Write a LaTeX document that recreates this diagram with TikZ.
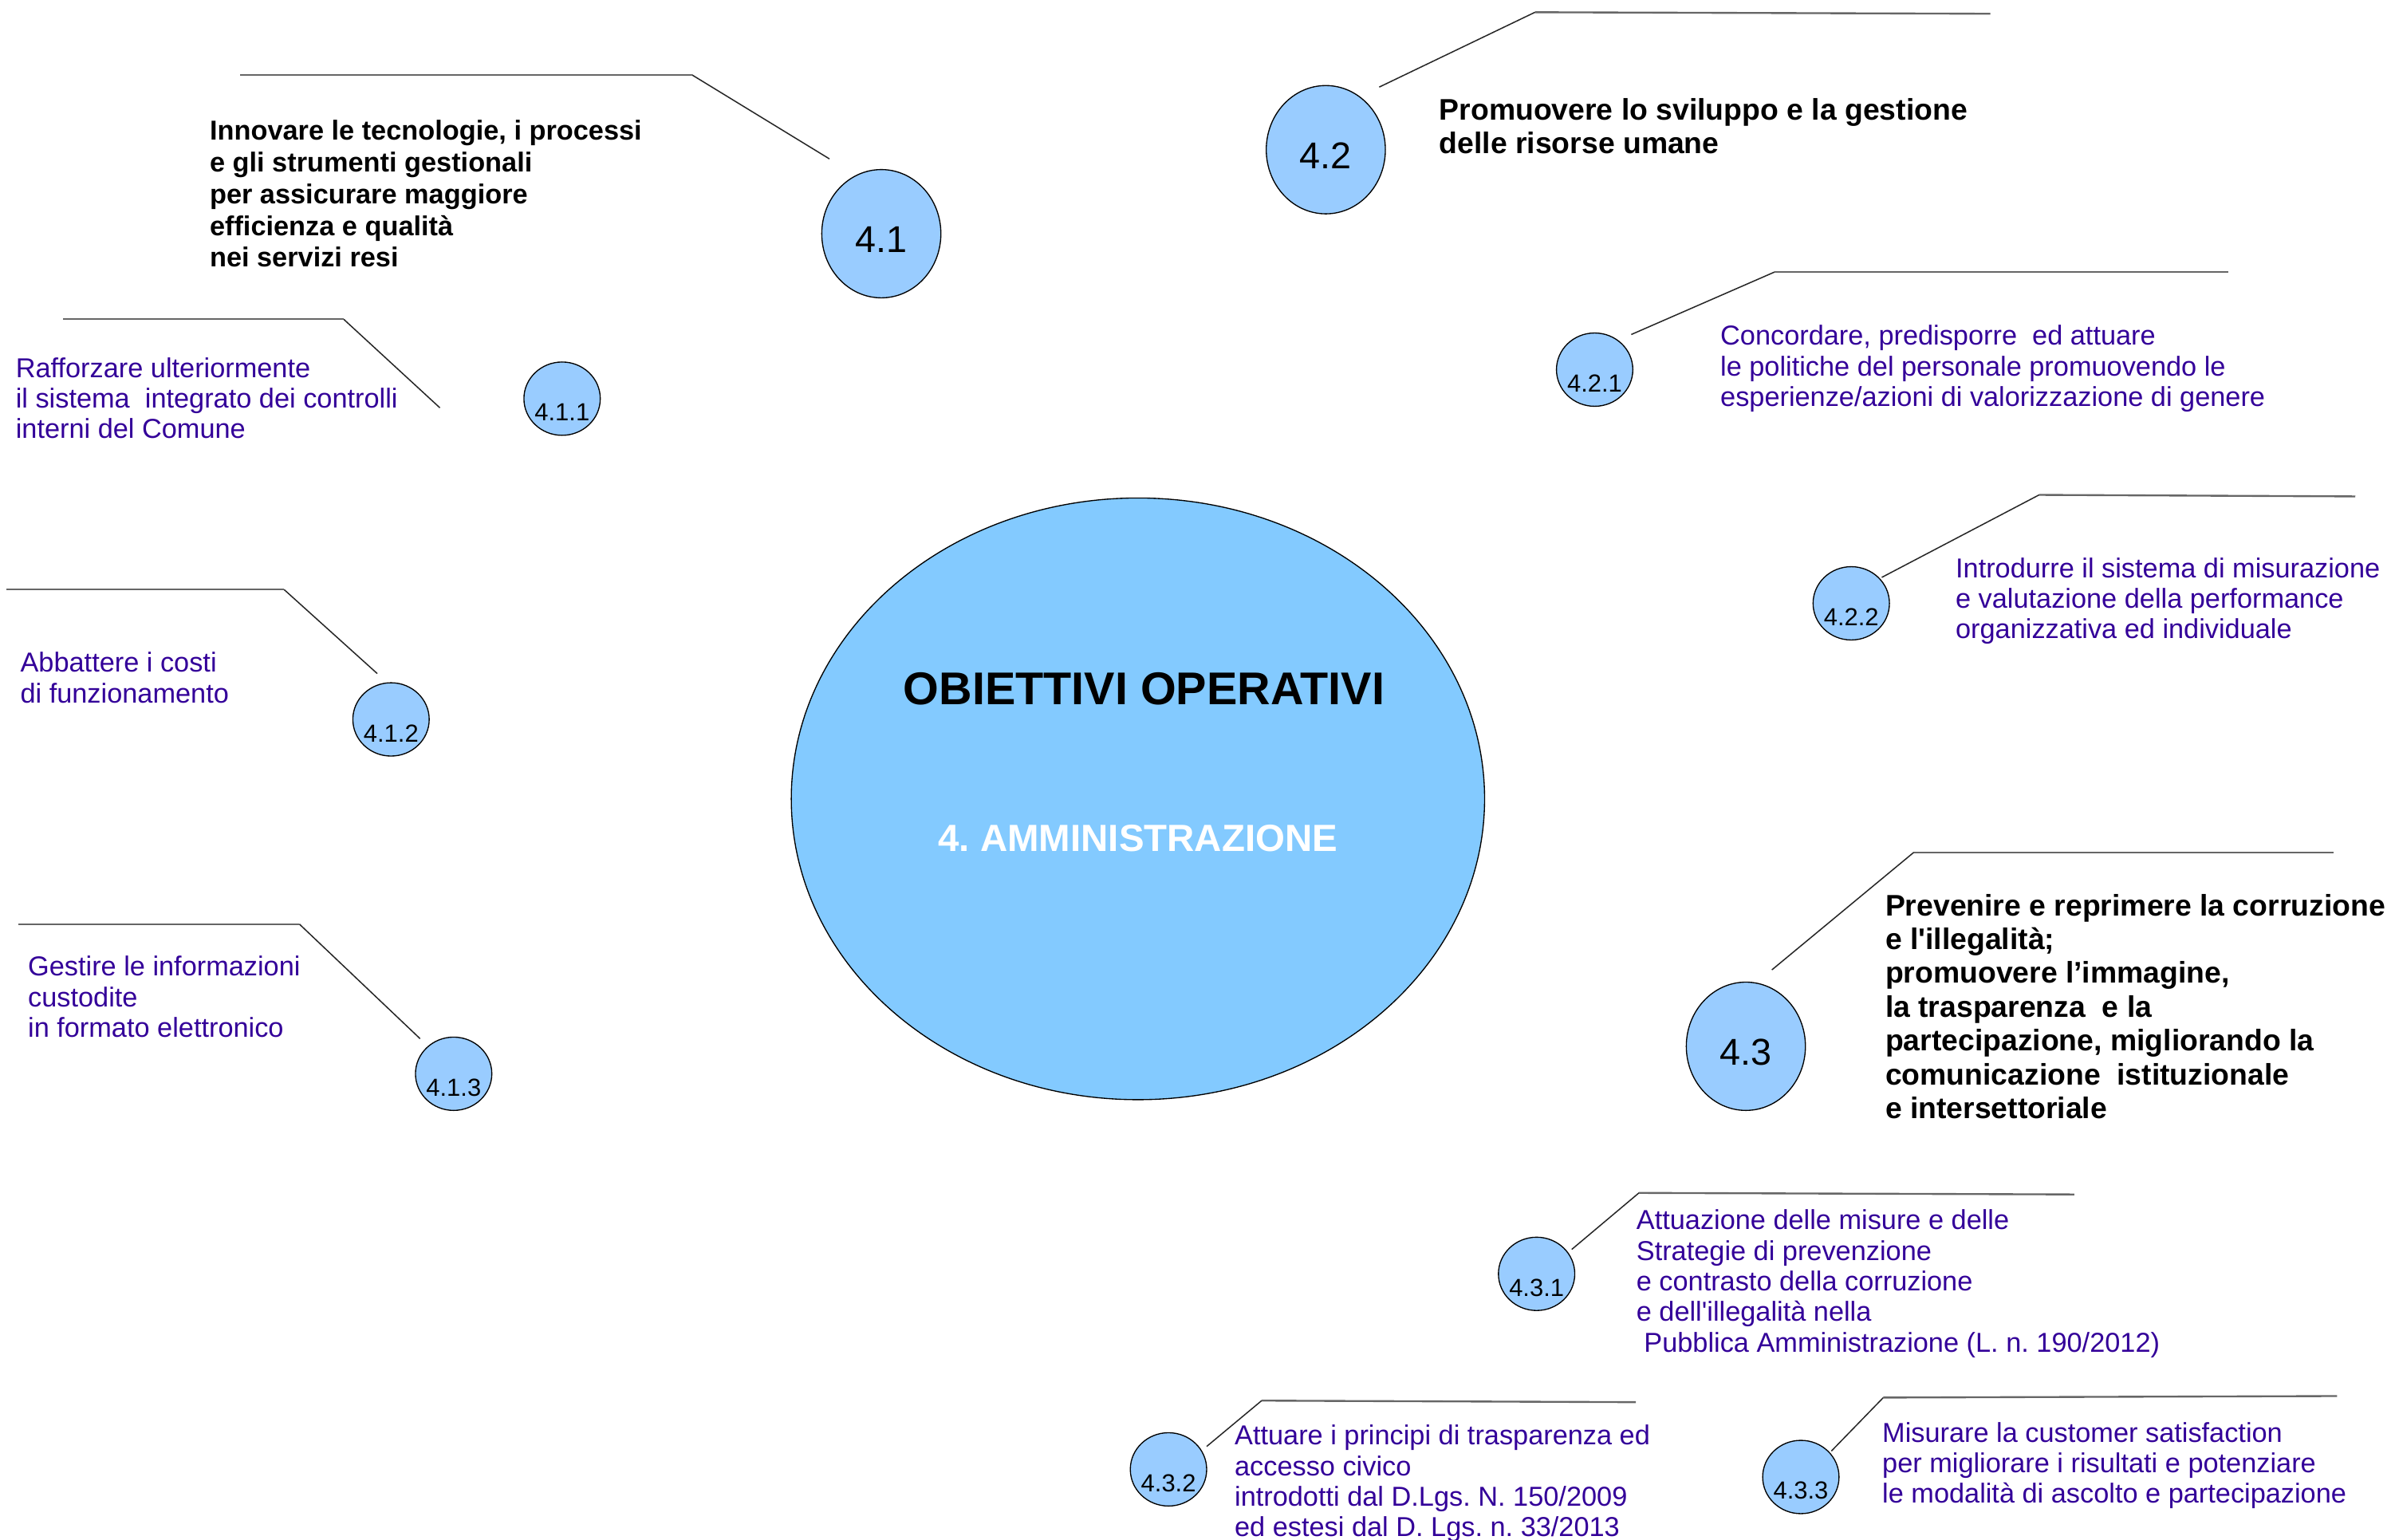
\documentclass[tikz,border=0pt]{standalone}
\usepackage{fontspec}
\setmainfont{Liberation Sans}
\usetikzlibrary{shapes.geometric}
\frenchspacing

\definecolor{coreblue}{RGB}{131,202,255}
\definecolor{bubbleblue}{RGB}{153,204,255}
\definecolor{taskblue}{RGB}{51,0,153}

\tikzset{
  core/.style={ellipse,draw,fill=coreblue,line width=0.4pt,minimum width=9.08cm,minimum height=7.88cm},
  bigbubble/.style={ellipse,draw,fill=bubbleblue,line width=0.4pt,minimum width=1.56cm,minimum height=1.68cm,
    label={[font=\fontsize{13.9}{15}\selectfont,yshift=-0.08cm]center:#1}},
  bubble/.style={ellipse,draw,fill=bubbleblue,line width=0.4pt,minimum width=1.0cm,minimum height=0.96cm,
    label={[font=\fontsize{9.2}{10}\selectfont,yshift=-0.18cm]center:#1}},
  goal/.style={align=left,anchor=north west,inner sep=0pt,font=\fontsize{10.2}{11.8}\selectfont\bfseries},
  biggoal/.style={goal,font=\fontsize{11.1}{12.6}\selectfont\bfseries},
  task/.style={align=left,anchor=north west,inner sep=0pt,text=taskblue,font=\fontsize{10.2}{11.4}\selectfont},
  rail/.style={draw=black!60,line width=0.7pt},
  leg/.style={draw=black!85,line width=0.45pt},
}

\begin{document}
\begin{tikzpicture}[x=0.02cm,y=-0.02cm]
    \useasboundingbox (0,0) rectangle (1568,1008);

    % centre
    \node[core] (core) at (745,523) {};
    \node[font=\fontsize{17.1}{19}\selectfont\bfseries] (title) at (749,451) {OBIETTIVI OPERATIVI};
    \node[font=\fontsize{14.1}{16}\selectfont\bfseries,text=white] (area) at (745,549) {4. AMMINISTRAZIONE};

    % goal bubbles
    \node[bigbubble=4.1] (b41) at (577,153) {};
    \node[bigbubble=4.2] (b42) at (868,98) {};
    \node[bigbubble=4.3] (b43) at (1143,685) {};

    \node[bubble=4.1.1] (b411) at (368,261) {};
    \node[bubble=4.1.2] (b412) at (256,471) {};
    \node[bubble=4.1.3] (b413) at (297,703) {};
    \node[bubble=4.2.1] (b421) at (1044,242) {};
    \node[bubble=4.2.2] (b422) at (1212,395) {};
    \node[bubble=4.3.1] (b431) at (1006,834) {};
    \node[bubble=4.3.2] (b432) at (765,962) {};
    \node[bubble=4.3.3] (b433) at (1179,967) {};

    % leader lines
    \coordinate (a41) at (543,104);  \coordinate (k41) at (453,49);   \coordinate (z41) at (157,49);
    \coordinate (a411) at (288,267); \coordinate (k411) at (225,209); \coordinate (z411) at (41,209);
    \coordinate (a412) at (247,441); \coordinate (k412) at (186,386); \coordinate (z412) at (4,386);
    \coordinate (a413) at (275,680); \coordinate (k413) at (196,605); \coordinate (z413) at (12,605);
    \coordinate (a42) at (903,57);   \coordinate (k42) at (1005,8);   \coordinate (z42) at (1303,9);
    \coordinate (a421) at (1068,219);\coordinate (k421) at (1162,178);\coordinate (z421) at (1459,178);
    \coordinate (a422) at (1232,378);\coordinate (k422) at (1335,324);\coordinate (z422) at (1542,325);
    \coordinate (a43) at (1160,635); \coordinate (k43) at (1253,558); \coordinate (z43) at (1528,558);
    \coordinate (a431) at (1029,818);\coordinate (k431) at (1073,781);\coordinate (z431) at (1358,782);
    \coordinate (a432) at (790,947); \coordinate (k432) at (826,917); \coordinate (z432) at (1071,918);
    \coordinate (a433) at (1199,950);\coordinate (k433) at (1233,915);\coordinate (z433) at (1530,914);

    \draw[leg] (a41) -- (k41);   \draw[rail] (k41) -- (z41);
    \draw[leg] (a411) -- (k411); \draw[rail] (k411) -- (z411);
    \draw[leg] (a412) -- (k412); \draw[rail] (k412) -- (z412);
    \draw[leg] (a413) -- (k413); \draw[rail] (k413) -- (z413);
    \draw[leg] (a42) -- (k42);   \draw[rail] (k42) -- (z42);
    \draw[leg] (a421) -- (k421); \draw[rail] (k421) -- (z421);
    \draw[leg] (a422) -- (k422); \draw[rail] (k422) -- (z422);
    \draw[leg] (a43) -- (k43);   \draw[rail] (k43) -- (z43);
    \draw[leg] (a431) -- (k431); \draw[rail] (k431) -- (z431);
    \draw[leg] (a432) -- (k432); \draw[rail] (k432) -- (z432);
    \draw[leg] (a433) -- (k433); \draw[rail] (k433) -- (z433);

    % goal texts
    \node[goal] (t41) at (137,78.5) {Innovare le tecnologie, i processi\\e gli strumenti gestionali\\per assicurare maggiore\\efficienza e qualità\\nei servizi resi};
    \node[biggoal] (t42) at (942,64) {Promuovere lo sviluppo e la gestione\\delle risorse umane};
    \node[biggoal] (t43) at (1234,585) {Prevenire e reprimere la corruzione\\e l\textquotesingle illegalità;\\promuovere l’immagine,\\la trasparenza \ e la\\partecipazione, migliorando la\\comunicazione \ istituzionale\\e intersettoriale};

    % operative texts
    \node[task] (t411) at (10,233.7) {Rafforzare ulteriormente\\il sistema \ integrato dei controlli\\interni del Comune};
    \node[task] (t412) at (13,426.7) {Abbattere i costi\\di funzionamento};
    \node[task] (t413) at (18,625.7) {Gestire le informazioni\\custodite\\in formato elettronico};
    \node[task] (t421) at (1126,212.7) {Concordare, predisporre \ ed attuare\\le politiche del personale promuovendo le\\esperienze/azioni di valorizzazione di genere};
    \node[task] (t422) at (1280,364.7) {Introdurre il sistema di misurazione\\e valutazione della performance\\organizzativa ed individuale};
    \node[task] (t431) at (1071,791.7) {Attuazione delle misure e delle\\Strategie di prevenzione\\e contrasto della corruzione\\e dell\textquotesingle illegalità nella\\\ Pubblica Amministrazione (L. n. 190/2012)};
    \node[task] (t432) at (808,932.7) {Attuare i principi di trasparenza ed\\accesso civico\\introdotti dal D.Lgs. N. 150/2009\\ed estesi dal D. Lgs. n. 33/2013};
    \node[task] (t433) at (1232,930.7) {Misurare la customer satisfaction\\per migliorare i risultati e potenziare\\le modalità di ascolto e partecipazione};
\end{tikzpicture}
\end{document}
